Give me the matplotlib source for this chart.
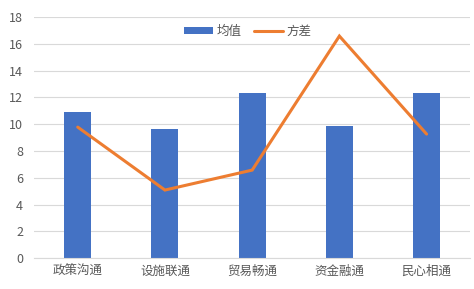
import matplotlib
matplotlib.use("Agg")
import matplotlib.pyplot as plt
import numpy as np

plt.rcParams['font.family'] = ['Noto Sans CJK SC', 'DejaVu Sans']

# data
categories = ["政策沟通", "设施联通", "贸易畅通", "资金融通", "民心相通"]
mean_vals = [10.9, 9.65, 12.33, 9.85, 12.33]
var_vals = [9.78, 5.08, 6.57, 16.58, 9.26]

fig = plt.figure(figsize=(4.74, 2.89), dpi=100)
ax = fig.add_axes([0.072, 0.107, 0.92, 0.834])

x = np.arange(len(categories))
bars = ax.bar(x, mean_vals, width=0.31, color="#4472C4", label="均值", zorder=2)
line, = ax.plot(x, var_vals, color="#ED7D31", linewidth=2.2, label="方差", zorder=3,
                solid_capstyle="round", solid_joinstyle="miter")

ax.set_xlim(-0.5, len(categories) - 0.5)
ax.set_ylim(0, 18)
ax.set_yticks(range(0, 19, 2))
ax.set_xticks(x)
ax.set_xticklabels(categories)

ax.grid(axis='y', color="#D9D9D9", linewidth=0.8, zorder=0)
for s in ["top", "right", "left"]:
    ax.spines[s].set_visible(False)
ax.spines["bottom"].set_color("#D9D9D9")
ax.tick_params(axis='both', length=0, colors="#595959", labelsize=9)
ax.tick_params(axis='y', pad=8)
ax.tick_params(axis='x', pad=5)

ax.legend([bars, line], ["均值", "方差"], loc="upper center",
          bbox_to_anchor=(0.49, 1.015), ncol=2, frameon=False,
          fontsize=9, labelcolor="#595959", handlelength=2.3, handleheight=0.5,
          columnspacing=1.0, handletextpad=0.3)

fig.savefig("out.png", dpi=100)
